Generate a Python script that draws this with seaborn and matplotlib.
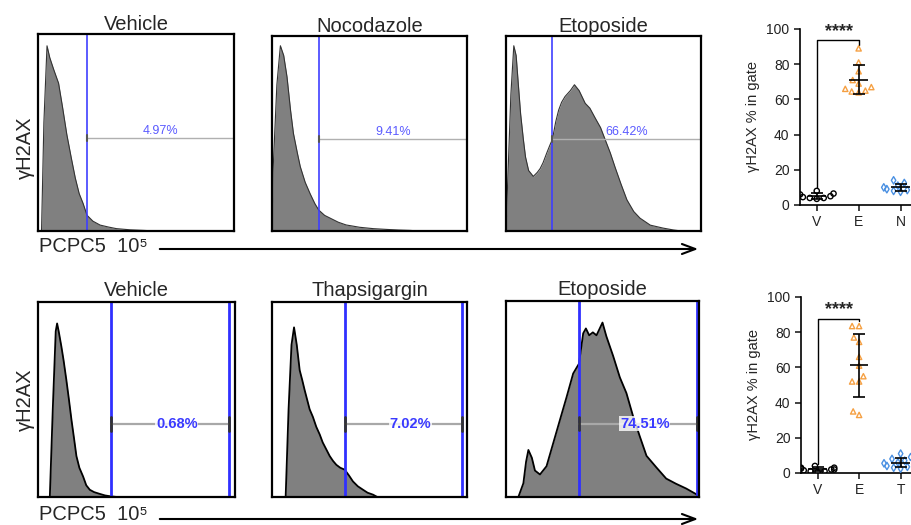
import numpy as np
import pandas as pd
import matplotlib
matplotlib.use("Agg")
import matplotlib.pyplot as plt
from matplotlib.patches import FancyArrowPatch
from matplotlib.collections import PathCollection
import seaborn as sns

sns.set_style("white")
plt.rcParams['font.family'] = ['Liberation Sans', 'DejaVu Sans']

# Flow histograms (intensity fraction, normalised count)
veh_top_x = [0.0, 0.018, 0.03, 0.046, 0.06, 0.08, 0.105, 0.125, 0.147, 0.17, 0.19, 0.21, 0.23, 0.25, 0.28, 0.317, 0.36, 0.4, 0.47, 0.54, 0.6]
veh_top_y = [0.0, 0.0, 0.55, 0.94, 0.88, 0.82, 0.75, 0.63, 0.49, 0.37, 0.27, 0.19, 0.14, 0.08, 0.05, 0.03, 0.02, 0.012, 0.006, 0.003, 0.0]

noc_top_x = [0.0, 0.005, 0.025, 0.043, 0.06, 0.077, 0.095, 0.11, 0.13, 0.145, 0.17, 0.196, 0.22, 0.24, 0.27, 0.3, 0.34, 0.38, 0.45, 0.52, 0.59, 0.65, 0.71, 0.75]
noc_top_y = [0.0, 0.3, 0.75, 0.95, 0.9, 0.79, 0.62, 0.5, 0.4, 0.33, 0.25, 0.19, 0.14, 0.107, 0.08, 0.065, 0.045, 0.031, 0.019, 0.012, 0.008, 0.005, 0.003, 0.0]

eto_top_x = [0.0, 0.005, 0.025, 0.04, 0.052, 0.063, 0.075, 0.089, 0.1, 0.116, 0.14, 0.16, 0.175, 0.19, 0.209, 0.225, 0.238, 0.255, 0.27, 0.285, 0.303, 0.33, 0.351, 0.375, 0.406, 0.43, 0.457, 0.485, 0.508, 0.535, 0.56, 0.59, 0.62, 0.655, 0.687, 0.74, 0.805, 0.86, 0.9]
eto_top_y = [0.0, 0.15, 0.7, 0.95, 0.9, 0.755, 0.6, 0.47, 0.38, 0.31, 0.28, 0.3, 0.32, 0.35, 0.4, 0.44, 0.47, 0.56, 0.62, 0.66, 0.69, 0.72, 0.75, 0.72, 0.655, 0.63, 0.58, 0.53, 0.47, 0.4, 0.325, 0.24, 0.16, 0.1, 0.066, 0.03, 0.015, 0.005, 0.0]

veh_bot_x = [0.0, 0.06, 0.075, 0.09, 0.097, 0.105, 0.119, 0.13, 0.144, 0.157, 0.17, 0.183, 0.195, 0.21, 0.229, 0.245, 0.263, 0.285, 0.31, 0.34, 0.365, 0.4]
veh_bot_y = [0.0, 0.0, 0.45, 0.85, 0.89, 0.85, 0.77, 0.7, 0.6, 0.5, 0.395, 0.3, 0.21, 0.15, 0.105, 0.06, 0.037, 0.025, 0.017, 0.008, 0.004, 0.0]

thap_bot_x = [0.0, 0.07, 0.085, 0.1, 0.113, 0.127, 0.142, 0.155, 0.167, 0.18, 0.193, 0.21, 0.227, 0.245, 0.26, 0.278, 0.296, 0.313, 0.33, 0.35, 0.373, 0.395, 0.415, 0.44, 0.467, 0.49, 0.518, 0.54]
thap_bot_y = [0.0, 0.0, 0.45, 0.78, 0.87, 0.78, 0.65, 0.6, 0.55, 0.5, 0.45, 0.41, 0.36, 0.32, 0.28, 0.245, 0.21, 0.185, 0.165, 0.15, 0.14, 0.11, 0.08, 0.055, 0.037, 0.022, 0.012, 0.0]

eto_bot_x = [0.0, 0.064, 0.09, 0.104, 0.116, 0.134, 0.15, 0.176, 0.21, 0.245, 0.28, 0.314, 0.348, 0.378, 0.4, 0.414, 0.431, 0.45, 0.469, 0.5, 0.52, 0.555, 0.59, 0.624, 0.659, 0.693, 0.728, 0.78, 0.83, 0.88, 0.934, 0.986, 1.0]
eto_bot_y = [0.0, 0.0, 0.07, 0.18, 0.24, 0.2, 0.135, 0.115, 0.157, 0.276, 0.395, 0.51, 0.63, 0.68, 0.835, 0.86, 0.825, 0.84, 0.825, 0.89, 0.82, 0.72, 0.61, 0.53, 0.41, 0.31, 0.21, 0.15, 0.094, 0.068, 0.043, 0.014, 0.0]

top_titles = ["Vehicle", "Nocodazole", "Etoposide"]
top_pcts = ["4.97%", "9.41%", "66.42%"]
top_gates = [0.25, 0.24, 0.236]

bot_titles = ["Vehicle", "Thapsigargin", "Etoposide"]
bot_pcts = ["0.68%", "7.02%", "74.51%"]
bot_gates_lo = [0.37, 0.374, 0.378]
bot_gates_hi = [0.97, 0.975, 0.99]

# gH2AX % in gate, per replicate
top_groups = ["V", "E", "N"]
top_V = [8, 6.5, 6, 5, 4.5, 4, 4, 3.5]
top_E = [89, 81, 76, 71, 69, 67, 66, 65, 64.5, 64]
top_N = [14, 12.5, 11, 10, 10, 9.5, 9, 8.5, 8, 7.5]

bot_groups = ["V", "E", "T"]
bot_V = [4, 3, 3, 2.5, 2, 2, 1.5, 1, 1, 0.5]
bot_E = [83.5, 83.5, 77, 74.5, 66, 61, 55, 52, 52, 35, 33]
bot_T = [11, 9, 8, 7, 6, 5.5, 5, 4, 3.5, 3, 2.5]

W, H = 911, 525
fig = plt.figure(figsize=(W / 100, H / 100), dpi=100)


def rect(l, t, r, b):
    return [l / W, 1 - b / H, (r - l) / W, (b - t) / H]


def hist_panel(box, x, y, title, top_row):
    ax = fig.add_axes(rect(*box))
    ax.fill_between(x, y, color='#808080', lw=0)
    if top_row:
        sns.lineplot(x=x, y=y, ax=ax, color='#333333', lw=0.8)
    else:
        sns.lineplot(x=x, y=y, ax=ax, color='black', lw=1.3)
    ax.set_xlim(0, 1)
    ax.set_ylim(0, 1)
    ax.set_xticks([])
    ax.set_yticks([])
    ax.set_xlabel("")
    ax.set_ylabel("")
    for s in ax.spines.values():
        s.set_visible(True)
        s.set_color('black')
        s.set_linewidth(1.6)
    ax.set_title(title, fontsize=14.5, pad=2 if top_row else 4)
    return ax


top_boxes = [(38, 34, 234, 231), (272, 36, 467, 231), (506, 36, 701, 231)]
top_data = [(veh_top_x, veh_top_y), (noc_top_x, noc_top_y), (eto_top_x, eto_top_y)]
for i in range(3):
    ax = hist_panel(top_boxes[i], *top_data[i], top_titles[i], True)
    g = top_gates[i]
    ax.axvline(g, color='#3f3fff', lw=1.2)
    ax.plot([g, 1], [0.47, 0.47], color='#b0b0b0', lw=1)
    ax.plot([g, g], [0.455, 0.485], color='#555555', lw=1.5)
    ax.text((g + 1) / 2, 0.475, top_pcts[i], ha='center', va='bottom', fontsize=9, color='#5a5aff')

bot_boxes = [(38, 302, 235, 497), (272, 302, 467, 497), (506, 301, 699, 497)]
bot_data = [(veh_bot_x, veh_bot_y), (thap_bot_x, thap_bot_y), (eto_bot_x, eto_bot_y)]
for i in range(3):
    ax = hist_panel(bot_boxes[i], *bot_data[i], bot_titles[i], False)
    lo, hi = bot_gates_lo[i], bot_gates_hi[i]
    ax.axvline(lo, color='#3030ff', lw=2)
    ax.axvline(hi, color='#3030ff', lw=2)
    ax.plot([lo, hi], [0.375, 0.375], color='#a8a8a8', lw=1.6)
    ax.plot([lo, lo], [0.34, 0.41], color='#333333', lw=2)
    ax.plot([hi, hi], [0.34, 0.41], color='#333333', lw=2)
    ax.text((lo + hi) / 2 + 0.035, 0.375, bot_pcts[i], ha='center', va='center', fontsize=10.5,
            fontweight='bold', color='#3a3aff',
            bbox=dict(facecolor='white', alpha=0.8, edgecolor='none', pad=0.5))

# axis labels and arrows for the histogram rows
for yc in [148, 400]:
    fig.text(25 / W, 1 - yc / H, "γH2AX", rotation=90, ha='center', va='center', fontsize=14.5)
for yt, ya in [(246, 249), (515, 519)]:
    fig.text(39 / W, 1 - yt / H, "PCPC5  10⁵", ha='left', va='center', fontsize=14.5)
    fig.add_artist(FancyArrowPatch((157 / W, 1 - ya / H), (701 / W, 1 - ya / H),
                                   transform=fig.transFigure, arrowstyle='->,head_length=0.8,head_width=0.3',
                                   mutation_scale=12, lw=1.5, color='black'))

orange = '#f5a043'
blue = '#4a90e2'


def scatter_panel(box, groups, sets, star_y, bracket_y, leg_v, leg_e):
    ax = fig.add_axes(rect(*box))
    styles = [('o', 'black'), ('^', orange), ('d', blue)]
    for i, vals in enumerate(sets):
        m, c = styles[i]
        sns.swarmplot(x=[groups[i]] * len(vals), y=vals, order=groups, ax=ax, color=c,
                      marker=m, size=3.8, linewidth=1, edgecolor=c, zorder=3)
        mean = np.mean(vals)
        sd = np.std(vals, ddof=1)
        ax.hlines(mean, i - 0.22, i + 0.22, color='black', lw=1.2, zorder=5)
        ax.errorbar(i, mean, yerr=sd, fmt='none', ecolor='black', elinewidth=1.2,
                    capsize=4, capthick=1.2, zorder=5)
    # open markers
    for coll in ax.collections:
        if isinstance(coll, PathCollection):
            coll.set_facecolor('none')
    ax.plot([0, 0, 1, 1], [leg_v, bracket_y, bracket_y, leg_e], color='black', lw=1, clip_on=False)
    ax.text(0.52, star_y, "****", ha='center', va='center', fontsize=13, fontweight='bold')
    ax.set_xlim(-0.4, 2.25)
    ax.set_ylim(0, 100)
    ax.set_yticks([0, 20, 40, 60, 80, 100])
    ax.set_xlabel("")
    ax.set_ylabel("γH2AX % in gate", fontsize=10.5, labelpad=5)
    sns.despine(ax=ax)
    for s in ['left', 'bottom']:
        ax.spines[s].set_color('black')
        ax.spines[s].set_linewidth(1.2)
    ax.tick_params(direction='out', length=4, width=1.2, labelsize=10, colors='#222222',
                   left=True, bottom=True)
    return ax


scatter_panel((800, 29, 911, 205), top_groups, [top_V, top_E, top_N], 98.5, 93.75, 9.5, 91)
scatter_panel((801, 297, 911, 473), bot_groups, [bot_V, bot_E, bot_T], 92.8, 87.7, 5, 86.2)

fig.savefig("out.png", dpi=100)
